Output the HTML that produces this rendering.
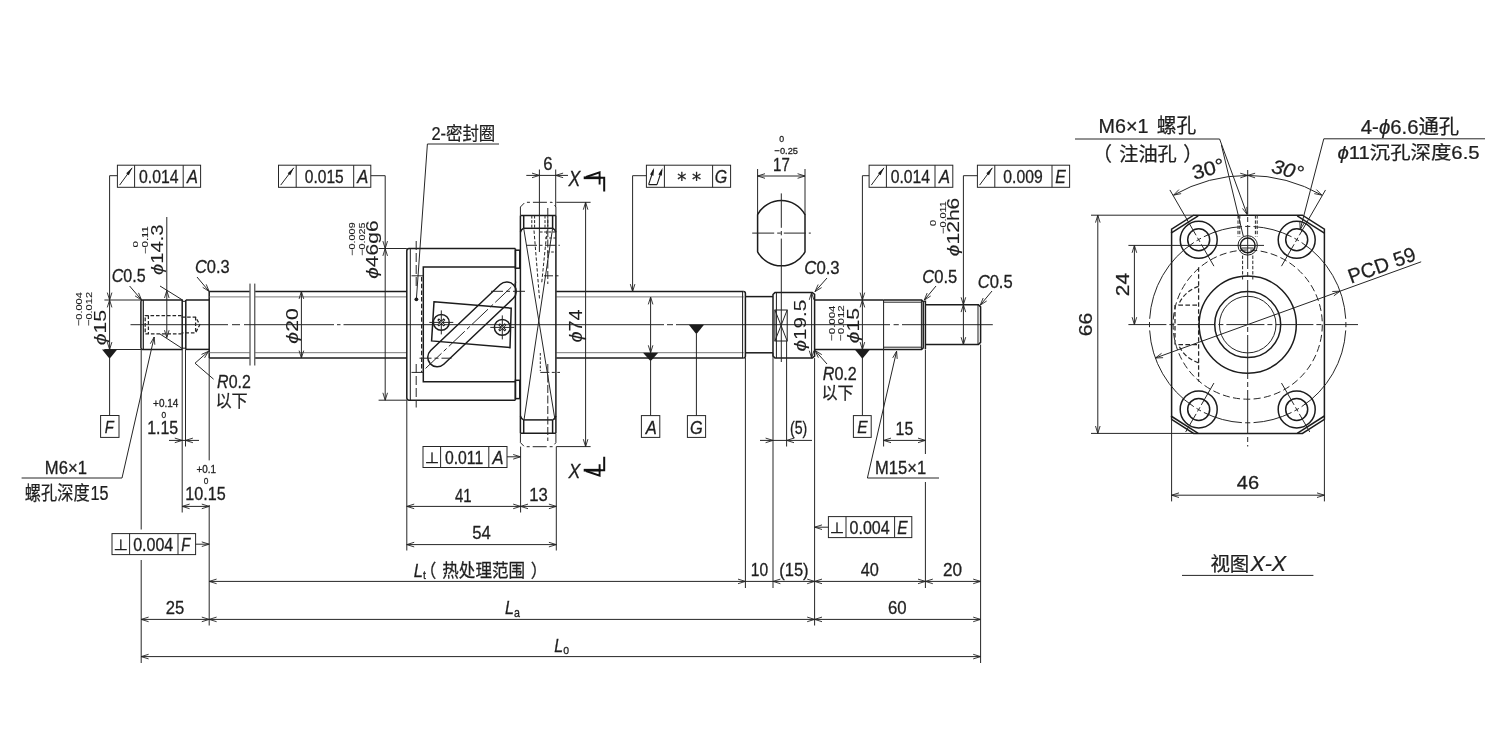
<!DOCTYPE html>
<html lang="zh-CN">
<head>
<meta charset="utf-8">
<title>滚珠丝杠 尺寸图</title>
<style>
html,body{margin:0;padding:0;background:#fff;}
body{width:1485px;height:742px;overflow:hidden;}
svg{display:block;will-change:transform;transform:translateZ(0);}
text{font-family:"Liberation Sans","Noto Sans CJK SC",sans-serif;}
</style>
</head>
<body>
<svg width="1485" height="742" viewBox="0 0 1485 742">
<rect x="0" y="0" width="1485" height="742" fill="#ffffff"/>
<line x1="130.50" y1="324.70" x2="228.00" y2="324.70" stroke="#262626" stroke-width="1.0" stroke-linecap="butt"/>
<line x1="232.00" y1="324.70" x2="240.00" y2="324.70" stroke="#262626" stroke-width="1.0" stroke-linecap="butt"/>
<line x1="244.00" y1="324.70" x2="334.00" y2="324.70" stroke="#262626" stroke-width="1.0" stroke-linecap="butt"/>
<line x1="337.00" y1="324.70" x2="340.50" y2="324.70" stroke="#262626" stroke-width="1.0" stroke-linecap="butt"/>
<line x1="343.50" y1="324.70" x2="664.00" y2="324.70" stroke="#262626" stroke-width="1.0" stroke-linecap="butt"/>
<line x1="667.00" y1="324.70" x2="673.00" y2="324.70" stroke="#262626" stroke-width="1.0" stroke-linecap="butt"/>
<line x1="676.00" y1="324.70" x2="890.00" y2="324.70" stroke="#262626" stroke-width="1.0" stroke-linecap="butt"/>
<line x1="893.60" y1="324.70" x2="898.80" y2="324.70" stroke="#262626" stroke-width="1.0" stroke-linecap="butt"/>
<line x1="902.00" y1="324.70" x2="992.80" y2="324.70" stroke="#262626" stroke-width="1.0" stroke-linecap="butt"/>
<path d="M182.5,300 L142.4,300 Q140.9,300 140.9,301.8 L140.9,347.6 Q140.9,349.4 142.4,349.4 L182.5,349.4" fill="none" stroke="#1c1c1c" stroke-width="1.5" stroke-linecap="butt"/>
<line x1="143.30" y1="300.00" x2="143.30" y2="349.40" stroke="#1c1c1c" stroke-width="1.2" stroke-linecap="butt"/>
<line x1="182.20" y1="300.00" x2="182.20" y2="349.40" stroke="#1c1c1c" stroke-width="1.5" stroke-linecap="butt"/>
<line x1="185.80" y1="300.00" x2="185.80" y2="349.40" stroke="#1c1c1c" stroke-width="1.5" stroke-linecap="butt"/>
<line x1="182.20" y1="301.30" x2="185.80" y2="301.30" stroke="#1c1c1c" stroke-width="1.0" stroke-linecap="butt"/>
<line x1="182.20" y1="348.20" x2="185.80" y2="348.20" stroke="#1c1c1c" stroke-width="1.0" stroke-linecap="butt"/>
<line x1="185.80" y1="300.00" x2="209.20" y2="300.00" stroke="#1c1c1c" stroke-width="1.5" stroke-linecap="butt"/>
<line x1="185.80" y1="349.40" x2="209.20" y2="349.40" stroke="#1c1c1c" stroke-width="1.5" stroke-linecap="butt"/>
<line x1="209.20" y1="291.50" x2="209.20" y2="358.00" stroke="#1c1c1c" stroke-width="1.5" stroke-linecap="butt"/>
<polyline points="181.60,315.50 145.20,315.50 145.20,333.90 181.60,333.90" fill="none" stroke="#262626" stroke-width="1.25" stroke-dasharray="3.6 1.9" stroke-linejoin="miter"/>
<line x1="148.40" y1="315.50" x2="148.40" y2="333.90" stroke="#262626" stroke-width="1.25" stroke-dasharray="3.6 1.9" stroke-linecap="butt"/>
<polyline points="181.60,317.00 195.60,317.00 199.80,324.70 195.60,332.80 181.60,332.80" fill="none" stroke="#262626" stroke-width="1.25" stroke-dasharray="3.6 1.9" stroke-linejoin="miter"/>
<line x1="195.60" y1="317.00" x2="195.60" y2="332.80" stroke="#262626" stroke-width="1.25" stroke-dasharray="3.6 1.9" stroke-linecap="butt"/>
<line x1="209.20" y1="291.50" x2="249.60" y2="291.50" stroke="#1c1c1c" stroke-width="1.5" stroke-linecap="butt"/>
<line x1="209.20" y1="358.00" x2="249.60" y2="358.00" stroke="#1c1c1c" stroke-width="1.5" stroke-linecap="butt"/>
<line x1="209.20" y1="296.90" x2="249.60" y2="296.90" stroke="#6a6a6a" stroke-width="0.9" stroke-linecap="butt"/>
<line x1="209.20" y1="352.70" x2="249.60" y2="352.70" stroke="#6a6a6a" stroke-width="0.9" stroke-linecap="butt"/>
<line x1="255.20" y1="291.50" x2="407.00" y2="291.50" stroke="#1c1c1c" stroke-width="1.5" stroke-linecap="butt"/>
<line x1="255.20" y1="358.00" x2="407.00" y2="358.00" stroke="#1c1c1c" stroke-width="1.5" stroke-linecap="butt"/>
<line x1="255.20" y1="296.90" x2="407.00" y2="296.90" stroke="#6a6a6a" stroke-width="0.9" stroke-linecap="butt"/>
<line x1="255.20" y1="352.70" x2="407.00" y2="352.70" stroke="#6a6a6a" stroke-width="0.9" stroke-linecap="butt"/>
<line x1="556.30" y1="291.50" x2="743.60" y2="291.50" stroke="#1c1c1c" stroke-width="1.5" stroke-linecap="butt"/>
<line x1="556.30" y1="358.00" x2="743.60" y2="358.00" stroke="#1c1c1c" stroke-width="1.5" stroke-linecap="butt"/>
<line x1="556.30" y1="296.90" x2="743.60" y2="296.90" stroke="#6a6a6a" stroke-width="0.9" stroke-linecap="butt"/>
<line x1="556.30" y1="352.70" x2="743.60" y2="352.70" stroke="#6a6a6a" stroke-width="0.9" stroke-linecap="butt"/>
<line x1="250.00" y1="283.60" x2="250.00" y2="365.50" stroke="#262626" stroke-width="1.0" stroke-linecap="butt"/>
<line x1="254.80" y1="283.60" x2="254.80" y2="365.50" stroke="#262626" stroke-width="1.0" stroke-linecap="butt"/>
<path d="M743.6,291.5 Q745.4,291.5 745.4,293.5 L745.4,356 Q745.4,358 743.6,358" fill="none" stroke="#1c1c1c" stroke-width="1.5" stroke-linecap="butt"/>
<line x1="742.60" y1="291.50" x2="742.60" y2="358.00" stroke="#1c1c1c" stroke-width="1.0" stroke-linecap="butt"/>
<line x1="745.40" y1="296.60" x2="773.00" y2="296.60" stroke="#1c1c1c" stroke-width="1.5" stroke-linecap="butt"/>
<line x1="745.40" y1="352.80" x2="773.00" y2="352.80" stroke="#1c1c1c" stroke-width="1.5" stroke-linecap="butt"/>
<path d="M773,294.6 L775,292.4 L812.3,292.4 L814.6,294.4 L814.6,356.2 L812.3,358.1 L775,358.1 L773,356 Z" fill="none" stroke="#1c1c1c" stroke-width="1.5" stroke-linecap="butt"/>
<line x1="776.40" y1="292.40" x2="776.40" y2="358.10" stroke="#1c1c1c" stroke-width="1.0" stroke-linecap="butt"/>
<rect x="774.90" y="310.00" width="12.30" height="31.00" fill="none" stroke="#1c1c1c" stroke-width="1.0"/>
<line x1="774.90" y1="310.00" x2="787.20" y2="341.00" stroke="#262626" stroke-width="1.0" stroke-linecap="butt"/>
<line x1="787.20" y1="310.00" x2="774.90" y2="341.00" stroke="#262626" stroke-width="1.0" stroke-linecap="butt"/>
<line x1="814.60" y1="300.00" x2="883.60" y2="300.00" stroke="#1c1c1c" stroke-width="1.5" stroke-linecap="butt"/>
<line x1="814.60" y1="349.50" x2="883.60" y2="349.50" stroke="#1c1c1c" stroke-width="1.5" stroke-linecap="butt"/>
<line x1="883.60" y1="300.00" x2="883.60" y2="349.50" stroke="#1c1c1c" stroke-width="1.0" stroke-linecap="butt"/>
<path d="M883.6,300 L921.6,300 L923.2,301.6 L923.2,347.9 L921.6,349.5 L883.6,349.5" fill="none" stroke="#1c1c1c" stroke-width="1.5" stroke-linecap="butt"/>
<line x1="883.60" y1="302.20" x2="921.60" y2="302.20" stroke="#262626" stroke-width="1.0" stroke-linecap="butt"/>
<line x1="883.60" y1="347.20" x2="921.60" y2="347.20" stroke="#262626" stroke-width="1.0" stroke-linecap="butt"/>
<line x1="921.40" y1="300.00" x2="921.40" y2="349.50" stroke="#1c1c1c" stroke-width="1.0" stroke-linecap="butt"/>
<line x1="925.40" y1="300.50" x2="925.40" y2="349.00" stroke="#1c1c1c" stroke-width="1.5" stroke-linecap="butt"/>
<line x1="923.20" y1="301.60" x2="925.40" y2="301.60" stroke="#1c1c1c" stroke-width="1.0" stroke-linecap="butt"/>
<path d="M925.4,304.7 L978.4,304.7 L980.6,306.9 L980.6,342.4 L978.4,344.6 L925.4,344.6" fill="none" stroke="#1c1c1c" stroke-width="1.5" stroke-linecap="butt"/>
<line x1="978.00" y1="304.70" x2="978.00" y2="344.60" stroke="#1c1c1c" stroke-width="1.0" stroke-linecap="butt"/>
<path d="M409,248.5 L515.4,248.5 M409,400.2 L515.4,400.2 M409,248.5 Q406.8,248.5 406.8,251 L406.8,397.8 Q406.8,400.2 409,400.2" fill="none" stroke="#1c1c1c" stroke-width="1.5" stroke-linecap="butt"/>
<line x1="410.30" y1="248.50" x2="410.30" y2="400.20" stroke="#1c1c1c" stroke-width="1.0" stroke-linecap="butt"/>
<line x1="515.40" y1="248.50" x2="515.40" y2="400.20" stroke="#1c1c1c" stroke-width="1.5" stroke-linecap="butt"/>
<rect x="515.40" y="250.20" width="4.40" height="18.00" fill="none" stroke="#1c1c1c" stroke-width="1.5"/>
<rect x="515.40" y="380.30" width="4.40" height="18.30" fill="none" stroke="#1c1c1c" stroke-width="1.5"/>
<path d="M515.4,267 L423.3,267 L423.3,381.8 L515.4,381.8" fill="none" stroke="#1c1c1c" stroke-width="1.5" stroke-linecap="butt"/>
<line x1="416.20" y1="241.00" x2="416.20" y2="289.00" stroke="#262626" stroke-width="1.0" stroke-dasharray="9 3" stroke-linecap="butt"/>
<line x1="416.20" y1="364.00" x2="416.20" y2="407.50" stroke="#262626" stroke-width="1.0" stroke-dasharray="9 3" stroke-linecap="butt"/>
<line x1="421.60" y1="277.00" x2="421.60" y2="372.00" stroke="#262626" stroke-width="1.2" stroke-dasharray="4.5 2.2" stroke-linecap="butt"/>
<line x1="411.50" y1="275.80" x2="423.30" y2="275.80" stroke="#262626" stroke-width="1.0" stroke-linecap="butt"/>
<line x1="411.50" y1="372.40" x2="423.30" y2="372.40" stroke="#262626" stroke-width="1.0" stroke-linecap="butt"/>
<path d="M443.74,364.29 L513.34,298.29 A9.5,9.5 0 0 0 500.26,284.51 L430.66,350.51 A9.5,9.5 0 0 0 443.74,364.29 Z" fill="none" stroke="#1c1c1c" stroke-width="1.5" stroke-linecap="butt"/>
<polygon points="434.00,301.80 511.20,308.20 510.00,347.60 431.60,340.90" fill="none" stroke="#1c1c1c" stroke-width="1.5" stroke-linejoin="miter"/>
<line x1="425.59" y1="368.41" x2="518.41" y2="280.39" stroke="#262626" stroke-width="1.0" stroke-dasharray="22 3 4 3" stroke-linecap="butt"/>
<line x1="419.50" y1="358.20" x2="451.50" y2="358.20" stroke="#262626" stroke-width="1.0" stroke-dasharray="12 3 4 3" stroke-linecap="butt"/>
<line x1="491.00" y1="291.30" x2="525.00" y2="291.30" stroke="#262626" stroke-width="1.0" stroke-dasharray="12 3 4 3" stroke-linecap="butt"/>
<circle cx="441.30" cy="322.40" r="7.90" fill="none" stroke="#1c1c1c" stroke-width="1.5"/>
<line x1="429.30" y1="322.40" x2="453.30" y2="322.40" stroke="#262626" stroke-width="1.0" stroke-linecap="butt"/>
<line x1="441.30" y1="310.40" x2="441.30" y2="334.40" stroke="#262626" stroke-width="1.0" stroke-linecap="butt"/>
<line x1="438.05" y1="319.15" x2="444.55" y2="325.65" stroke="#1c1c1c" stroke-width="2.4" stroke-linecap="butt"/>
<line x1="438.90" y1="320.00" x2="443.70" y2="324.80" stroke="#fff" stroke-width="0.9" stroke-linecap="butt"/>
<line x1="444.55" y1="319.15" x2="438.05" y2="325.65" stroke="#1c1c1c" stroke-width="2.4" stroke-linecap="butt"/>
<line x1="443.70" y1="320.00" x2="438.90" y2="324.80" stroke="#fff" stroke-width="0.9" stroke-linecap="butt"/>
<circle cx="502.30" cy="327.40" r="7.90" fill="none" stroke="#1c1c1c" stroke-width="1.5"/>
<line x1="490.30" y1="327.40" x2="514.30" y2="327.40" stroke="#262626" stroke-width="1.0" stroke-linecap="butt"/>
<line x1="502.30" y1="315.40" x2="502.30" y2="339.40" stroke="#262626" stroke-width="1.0" stroke-linecap="butt"/>
<line x1="499.05" y1="324.15" x2="505.55" y2="330.65" stroke="#1c1c1c" stroke-width="2.4" stroke-linecap="butt"/>
<line x1="499.90" y1="325.00" x2="504.70" y2="329.80" stroke="#fff" stroke-width="0.9" stroke-linecap="butt"/>
<line x1="505.55" y1="324.15" x2="499.05" y2="330.65" stroke="#1c1c1c" stroke-width="2.4" stroke-linecap="butt"/>
<line x1="504.70" y1="325.00" x2="499.90" y2="329.80" stroke="#fff" stroke-width="0.9" stroke-linecap="butt"/>
<path d="M520.4,215.5 L520.4,207 L525.0,202.3 L552.0,202.3 L555.9,207 L555.9,215.5" fill="none" stroke="#262626" stroke-width="1.0" stroke-dasharray="14 3 3 3" stroke-linecap="butt"/>
<path d="M520.4,433.6 L520.4,442.6 L524.4,446.7 L552.6,446.7 L555.9,442.6 L555.9,433.6" fill="none" stroke="#262626" stroke-width="1.0" stroke-dasharray="14 3 3 3" stroke-linecap="butt"/>
<line x1="520.40" y1="215.60" x2="520.40" y2="433.30" stroke="#1c1c1c" stroke-width="1.5" stroke-linecap="butt"/>
<line x1="555.90" y1="215.60" x2="555.90" y2="433.30" stroke="#1c1c1c" stroke-width="1.5" stroke-linecap="butt"/>
<line x1="520.40" y1="215.60" x2="555.90" y2="215.60" stroke="#1c1c1c" stroke-width="1.5" stroke-linecap="butt"/>
<line x1="520.40" y1="433.30" x2="555.90" y2="433.30" stroke="#1c1c1c" stroke-width="1.5" stroke-linecap="butt"/>
<line x1="523.70" y1="215.60" x2="523.70" y2="228.30" stroke="#1c1c1c" stroke-width="1.5" stroke-linecap="butt"/>
<line x1="552.60" y1="215.60" x2="552.60" y2="228.30" stroke="#1c1c1c" stroke-width="1.5" stroke-linecap="butt"/>
<line x1="523.70" y1="419.90" x2="523.70" y2="433.30" stroke="#1c1c1c" stroke-width="1.5" stroke-linecap="butt"/>
<line x1="552.60" y1="419.90" x2="552.60" y2="433.30" stroke="#1c1c1c" stroke-width="1.5" stroke-linecap="butt"/>
<line x1="523.70" y1="228.30" x2="552.60" y2="228.30" stroke="#1c1c1c" stroke-width="1.5" stroke-linecap="butt"/>
<line x1="523.70" y1="419.90" x2="552.60" y2="419.90" stroke="#1c1c1c" stroke-width="1.5" stroke-linecap="butt"/>
<path d="M523.7,228.3 Q521.2,229.4 520.4,232.2 M552.6,228.3 Q555.1,229.4 555.9,232.2 M523.7,419.9 Q521.2,418.8 520.4,416.0 M552.6,419.9 Q555.1,418.8 555.9,416.0" fill="none" stroke="#1c1c1c" stroke-width="1.5" stroke-linecap="butt"/>
<line x1="523.70" y1="228.30" x2="555.00" y2="419.90" stroke="#262626" stroke-width="1.0" stroke-linecap="butt"/>
<line x1="552.60" y1="228.30" x2="524.00" y2="419.90" stroke="#262626" stroke-width="1.0" stroke-linecap="butt"/>
<line x1="531.80" y1="215.50" x2="531.80" y2="228.80" stroke="#262626" stroke-width="1.0" stroke-dasharray="3 1.6" stroke-linecap="butt"/>
<line x1="534.60" y1="215.50" x2="534.60" y2="228.80" stroke="#262626" stroke-width="1.0" stroke-dasharray="3 1.6" stroke-linecap="butt"/>
<line x1="545.00" y1="215.50" x2="545.00" y2="228.80" stroke="#262626" stroke-width="1.0" stroke-dasharray="3 1.6" stroke-linecap="butt"/>
<line x1="547.80" y1="215.50" x2="547.80" y2="228.80" stroke="#262626" stroke-width="1.0" stroke-dasharray="3 1.6" stroke-linecap="butt"/>
<line x1="547.80" y1="208.00" x2="547.80" y2="284.00" stroke="#262626" stroke-width="1.0" stroke-dasharray="8 2.5" stroke-linecap="butt"/>
<line x1="534.00" y1="230.50" x2="539.60" y2="300.00" stroke="#262626" stroke-width="1.0" stroke-dasharray="3.4 2" stroke-linecap="butt"/>
<line x1="547.00" y1="230.50" x2="541.60" y2="284.00" stroke="#262626" stroke-width="1.0" stroke-dasharray="3.4 2" stroke-linecap="butt"/>
<line x1="526.00" y1="245.30" x2="559.80" y2="245.30" stroke="#262626" stroke-width="1.0" stroke-dasharray="11 2.5 3 2.5" stroke-linecap="butt"/>
<line x1="544.00" y1="275.80" x2="560.00" y2="275.80" stroke="#262626" stroke-width="1.0" stroke-dasharray="9 2.5 3 2.5" stroke-linecap="butt"/>
<line x1="540.00" y1="232.00" x2="556.00" y2="232.00" stroke="#262626" stroke-width="1.0" stroke-dasharray="2.6 1.6" stroke-linecap="butt"/>
<line x1="545.00" y1="238.00" x2="556.00" y2="238.00" stroke="#262626" stroke-width="1.0" stroke-dasharray="2.6 1.6" stroke-linecap="butt"/>
<line x1="547.00" y1="252.00" x2="556.00" y2="252.00" stroke="#262626" stroke-width="1.0" stroke-dasharray="2.6 1.6" stroke-linecap="butt"/>
<line x1="540.30" y1="353.00" x2="540.30" y2="371.00" stroke="#262626" stroke-width="1.0" stroke-dasharray="2.6 1.6" stroke-linecap="butt"/>
<line x1="540.30" y1="372.40" x2="560.00" y2="372.40" stroke="#262626" stroke-width="1.0" stroke-dasharray="9 2.5 3 2.5" stroke-linecap="butt"/>
<line x1="547.80" y1="364.00" x2="547.80" y2="441.00" stroke="#262626" stroke-width="1.0" stroke-dasharray="8 2.5" stroke-linecap="butt"/>
<rect x="117.40" y="165.20" width="83.20" height="22.10" fill="none" stroke="#262626" stroke-width="1.0"/>
<line x1="134.60" y1="165.20" x2="134.60" y2="187.30" stroke="#262626" stroke-width="1.0" stroke-linecap="butt"/>
<line x1="183.20" y1="165.20" x2="183.20" y2="187.30" stroke="#262626" stroke-width="1.0" stroke-linecap="butt"/>
<line x1="119.60" y1="185.10" x2="132.20" y2="167.80" stroke="#262626" stroke-width="1.0" stroke-linecap="butt"/>
<path d="M128.78,175.21 L132.20,167.80 L126.20,173.32 Z" fill="#1c1c1c" stroke="none"/>
<text transform="translate(138.97,182.82) scale(0.8765,1)" font-size="18.03" fill="#1f1f1f" stroke="#1f1f1f" stroke-width="0.3">0.014</text>
<text transform="translate(187.12,183.00) scale(0.8836,1)" font-size="18.55" fill="#1f1f1f" stroke="#1f1f1f" stroke-width="0.3"><tspan font-style="italic">A</tspan></text>
<polyline points="117.40,175.70 109.60,175.70 109.60,300.00" fill="none" stroke="#262626" stroke-width="1.0" stroke-linejoin="miter"/>
<path d="M107.30,292.60 L109.60,300.00 L111.90,292.60" fill="none" stroke="#222222" stroke-width="0.9" stroke-linejoin="miter"/>
<line x1="104.40" y1="300.00" x2="141.20" y2="300.00" stroke="#262626" stroke-width="1.0" stroke-linecap="butt"/>
<line x1="104.40" y1="349.50" x2="141.20" y2="349.50" stroke="#262626" stroke-width="1.0" stroke-linecap="butt"/>
<line x1="109.60" y1="300.00" x2="109.60" y2="349.50" stroke="#262626" stroke-width="1.0" stroke-linecap="butt"/>
<path d="M111.90,307.40 L109.60,300.00 L107.30,307.40" fill="none" stroke="#222222" stroke-width="0.9" stroke-linejoin="miter"/>
<path d="M107.30,342.10 L109.60,349.50 L111.90,342.10" fill="none" stroke="#222222" stroke-width="0.9" stroke-linejoin="miter"/>
<polygon points="102.00,349.50 117.20,349.50 109.60,358.70" fill="#1c1c1c" stroke="none"/>
<line x1="109.60" y1="358.00" x2="109.60" y2="415.50" stroke="#262626" stroke-width="1.0" stroke-linecap="butt"/>
<rect x="100.60" y="415.50" width="18.40" height="21.90" fill="none" stroke="#262626" stroke-width="1.0"/>
<text transform="translate(104.76,433.40) scale(0.8397,1)" font-size="17.39" fill="#1f1f1f" stroke="#1f1f1f" stroke-width="0.3"><tspan font-style="italic">F</tspan></text>
<text transform="translate(106.24,345.34) rotate(-90) scale(1.3080,1)" font-size="16.29" fill="#1f1f1f" stroke="#1f1f1f" stroke-width="0.1"><tspan font-style="italic">ϕ</tspan>15</text>
<text transform="translate(81.71,326.05) rotate(-90) scale(1.1814,1)" font-size="9.30" fill="#1f1f1f" stroke="#1f1f1f" stroke-width="0.1">−0.004</text>
<text transform="translate(91.71,326.05) rotate(-90) scale(1.1893,1)" font-size="9.30" fill="#1f1f1f" stroke="#1f1f1f" stroke-width="0.1">−0.012</text>
<text transform="translate(111.72,281.62) scale(0.8909,1)" font-size="18.03" fill="#1f1f1f" stroke="#1f1f1f" stroke-width="0.3"><tspan font-style="italic">C</tspan>0.5</text>
<line x1="129.60" y1="286.00" x2="141.60" y2="300.00" stroke="#262626" stroke-width="1.0" stroke-linecap="butt"/>
<path d="M135.04,295.88 L141.60,300.00 L138.53,292.88" fill="none" stroke="#222222" stroke-width="0.9" stroke-linejoin="miter"/>
<line x1="166.80" y1="217.00" x2="166.80" y2="337.50" stroke="#262626" stroke-width="1.0" stroke-linecap="butt"/>
<path d="M169.10,298.00 L166.80,290.60 L164.50,298.00" fill="none" stroke="#222222" stroke-width="0.9" stroke-linejoin="miter"/>
<path d="M164.50,330.20 L166.80,337.60 L169.10,330.20" fill="none" stroke="#222222" stroke-width="0.9" stroke-linejoin="miter"/>
<line x1="160.00" y1="286.00" x2="183.00" y2="300.30" stroke="#262626" stroke-width="1.0" stroke-linecap="butt"/>
<line x1="160.00" y1="334.00" x2="183.00" y2="349.00" stroke="#262626" stroke-width="1.0" stroke-linecap="butt"/>
<text transform="translate(163.00,275.01) rotate(-90) scale(1.2038,1)" font-size="16.81" fill="#1f1f1f" stroke="#1f1f1f" stroke-width="0.1"><tspan font-style="italic">ϕ</tspan>14.3</text>
<text transform="translate(137.53,247.46) rotate(-90) scale(1.6271,1)" font-size="7.04" fill="#1f1f1f" stroke="#1f1f1f" stroke-width="0.1">0</text>
<text transform="translate(147.71,254.07) rotate(-90) scale(1.3101,1)" font-size="8.73" fill="#1f1f1f" stroke="#1f1f1f" stroke-width="0.1">−0.11</text>
<text transform="translate(194.89,272.62) scale(0.9129,1)" font-size="18.03" fill="#1f1f1f" stroke="#1f1f1f" stroke-width="0.3"><tspan font-style="italic">C</tspan>0.3</text>
<line x1="197.00" y1="277.00" x2="209.20" y2="291.50" stroke="#262626" stroke-width="1.0" stroke-linecap="butt"/>
<path d="M202.68,287.31 L209.20,291.50 L206.21,284.35" fill="none" stroke="#222222" stroke-width="0.9" stroke-linejoin="miter"/>
<polyline points="208.20,351.60 195.00,363.20 213.60,379.20" fill="none" stroke="#262626" stroke-width="1.0" stroke-linejoin="miter"/>
<path d="M204.52,357.89 L208.60,351.30 L201.51,354.42" fill="none" stroke="#222222" stroke-width="0.9" stroke-linejoin="miter"/>
<text transform="translate(217.12,388.22) scale(0.8844,1)" font-size="18.03" fill="#1f1f1f" stroke="#1f1f1f" stroke-width="0.3"><tspan font-style="italic">R</tspan>0.2</text>
<text transform="translate(215.38,406.92) scale(0.9282,1)" font-size="17.40" fill="#1f1f1f" stroke="#1f1f1f" stroke-width="0.25">以下</text>
<polyline points="154.20,337.00 122.00,478.00 21.60,478.00" fill="none" stroke="#262626" stroke-width="1.0" stroke-linejoin="miter"/>
<path d="M154.80,344.73 L154.20,337.00 L150.32,343.71" fill="none" stroke="#222222" stroke-width="0.9" stroke-linejoin="miter"/>
<text transform="translate(44.87,473.72) scale(0.9014,1)" font-size="18.45" fill="#1f1f1f" stroke="#1f1f1f" stroke-width="0.3">M6×1</text>
<text transform="translate(24.75,500.24) scale(0.8339,1)" font-size="19.46" fill="#1f1f1f" stroke="#1f1f1f" stroke-width="0.25">螺孔深度<tspan dx="1.17">15</tspan></text>
<line x1="141.20" y1="349.50" x2="141.20" y2="529.50" stroke="#262626" stroke-width="1.0" stroke-linecap="butt"/>
<line x1="141.20" y1="560.00" x2="141.20" y2="663.00" stroke="#262626" stroke-width="1.0" stroke-linecap="butt"/>
<line x1="182.20" y1="349.50" x2="182.20" y2="512.50" stroke="#262626" stroke-width="1.0" stroke-linecap="butt"/>
<line x1="185.50" y1="349.50" x2="185.50" y2="446.50" stroke="#262626" stroke-width="1.0" stroke-linecap="butt"/>
<line x1="209.20" y1="358.00" x2="209.20" y2="460.40" stroke="#262626" stroke-width="1.0" stroke-linecap="butt"/>
<line x1="209.20" y1="505.00" x2="209.20" y2="625.50" stroke="#262626" stroke-width="1.0" stroke-linecap="butt"/>
<line x1="169.00" y1="440.40" x2="199.00" y2="440.40" stroke="#262626" stroke-width="1.0" stroke-linecap="butt"/>
<path d="M174.80,442.70 L182.20,440.40 L174.80,438.10" fill="none" stroke="#222222" stroke-width="0.9" stroke-linejoin="miter"/>
<path d="M192.90,438.10 L185.50,440.40 L192.90,442.70" fill="none" stroke="#222222" stroke-width="0.9" stroke-linejoin="miter"/>
<text transform="translate(147.20,433.62) scale(0.8865,1)" font-size="18.00" fill="#1f1f1f" stroke="#1f1f1f" stroke-width="0.3">1.15</text>
<text transform="translate(153.10,407.10) scale(0.9821,1)" font-size="10.14" fill="#1f1f1f" stroke="#1f1f1f" stroke-width="0.3">+0.14</text>
<text transform="translate(161.47,417.50) scale(0.8701,1)" font-size="9.58" fill="#1f1f1f" stroke="#1f1f1f" stroke-width="0.3">0</text>
<line x1="182.20" y1="506.40" x2="209.20" y2="506.40" stroke="#262626" stroke-width="1.0" stroke-linecap="butt"/>
<path d="M189.60,504.10 L182.20,506.40 L189.60,508.70" fill="none" stroke="#222222" stroke-width="0.9" stroke-linejoin="miter"/>
<path d="M201.80,508.70 L209.20,506.40 L201.80,504.10" fill="none" stroke="#222222" stroke-width="0.9" stroke-linejoin="miter"/>
<text transform="translate(185.19,500.02) scale(0.8977,1)" font-size="18.03" fill="#1f1f1f" stroke="#1f1f1f" stroke-width="0.3">10.15</text>
<text transform="translate(196.51,473.10) scale(0.9756,1)" font-size="10.14" fill="#1f1f1f" stroke="#1f1f1f" stroke-width="0.3">+0.1</text>
<text transform="translate(203.67,483.50) scale(0.8701,1)" font-size="9.58" fill="#1f1f1f" stroke="#1f1f1f" stroke-width="0.3">0</text>
<rect x="112.00" y="533.60" width="83.60" height="21.00" fill="none" stroke="#262626" stroke-width="1.0"/>
<line x1="129.60" y1="533.60" x2="129.60" y2="554.60" stroke="#262626" stroke-width="1.0" stroke-linecap="butt"/>
<line x1="178.00" y1="533.60" x2="178.00" y2="554.60" stroke="#262626" stroke-width="1.0" stroke-linecap="butt"/>
<text transform="translate(113.79,550.40) scale(1.1154,1)" font-size="14.86" fill="#1f1f1f" stroke="#1f1f1f" stroke-width="0.3"><tspan font-family="DejaVu Sans, sans-serif">⊥</tspan></text>
<text transform="translate(133.16,550.83) scale(0.9190,1)" font-size="17.46" fill="#1f1f1f" stroke="#1f1f1f" stroke-width="0.3">0.004</text>
<text transform="translate(181.16,550.80) scale(0.8259,1)" font-size="17.68" fill="#1f1f1f" stroke="#1f1f1f" stroke-width="0.3"><tspan font-style="italic">F</tspan></text>
<line x1="195.60" y1="544.20" x2="209.20" y2="544.20" stroke="#262626" stroke-width="1.0" stroke-linecap="butt"/>
<path d="M201.80,546.50 L209.20,544.20 L201.80,541.90" fill="none" stroke="#222222" stroke-width="0.9" stroke-linejoin="miter"/>
<line x1="209.20" y1="581.40" x2="745.40" y2="581.40" stroke="#262626" stroke-width="1.0" stroke-linecap="butt"/>
<path d="M216.60,579.10 L209.20,581.40 L216.60,583.70" fill="none" stroke="#222222" stroke-width="0.9" stroke-linejoin="miter"/>
<path d="M738.00,583.70 L745.40,581.40 L738.00,579.10" fill="none" stroke="#222222" stroke-width="0.9" stroke-linejoin="miter"/>
<line x1="745.40" y1="581.40" x2="773.00" y2="581.40" stroke="#262626" stroke-width="1.0" stroke-linecap="butt"/>
<line x1="773.00" y1="581.40" x2="814.60" y2="581.40" stroke="#262626" stroke-width="1.0" stroke-linecap="butt"/>
<path d="M807.20,583.70 L814.60,581.40 L807.20,579.10" fill="none" stroke="#222222" stroke-width="0.9" stroke-linejoin="miter"/>
<path d="M780.40,579.10 L773.00,581.40 L780.40,583.70" fill="none" stroke="#222222" stroke-width="0.9" stroke-linejoin="miter"/>
<line x1="814.60" y1="581.40" x2="925.40" y2="581.40" stroke="#262626" stroke-width="1.0" stroke-linecap="butt"/>
<path d="M822.00,579.10 L814.60,581.40 L822.00,583.70" fill="none" stroke="#222222" stroke-width="0.9" stroke-linejoin="miter"/>
<path d="M918.00,583.70 L925.40,581.40 L918.00,579.10" fill="none" stroke="#222222" stroke-width="0.9" stroke-linejoin="miter"/>
<line x1="925.40" y1="581.40" x2="980.60" y2="581.40" stroke="#262626" stroke-width="1.0" stroke-linecap="butt"/>
<path d="M932.80,579.10 L925.40,581.40 L932.80,583.70" fill="none" stroke="#222222" stroke-width="0.9" stroke-linejoin="miter"/>
<path d="M973.20,583.70 L980.60,581.40 L973.20,579.10" fill="none" stroke="#222222" stroke-width="0.9" stroke-linejoin="miter"/>
<line x1="141.20" y1="619.40" x2="209.20" y2="619.40" stroke="#262626" stroke-width="1.0" stroke-linecap="butt"/>
<path d="M148.60,617.10 L141.20,619.40 L148.60,621.70" fill="none" stroke="#222222" stroke-width="0.9" stroke-linejoin="miter"/>
<path d="M201.80,621.70 L209.20,619.40 L201.80,617.10" fill="none" stroke="#222222" stroke-width="0.9" stroke-linejoin="miter"/>
<line x1="209.20" y1="619.40" x2="814.60" y2="619.40" stroke="#262626" stroke-width="1.0" stroke-linecap="butt"/>
<path d="M216.60,617.10 L209.20,619.40 L216.60,621.70" fill="none" stroke="#222222" stroke-width="0.9" stroke-linejoin="miter"/>
<path d="M807.20,621.70 L814.60,619.40 L807.20,617.10" fill="none" stroke="#222222" stroke-width="0.9" stroke-linejoin="miter"/>
<line x1="814.60" y1="619.40" x2="980.60" y2="619.40" stroke="#262626" stroke-width="1.0" stroke-linecap="butt"/>
<path d="M822.00,617.10 L814.60,619.40 L822.00,621.70" fill="none" stroke="#222222" stroke-width="0.9" stroke-linejoin="miter"/>
<path d="M973.20,621.70 L980.60,619.40 L973.20,617.10" fill="none" stroke="#222222" stroke-width="0.9" stroke-linejoin="miter"/>
<line x1="141.20" y1="656.60" x2="980.60" y2="656.60" stroke="#262626" stroke-width="1.0" stroke-linecap="butt"/>
<path d="M148.60,654.30 L141.20,656.60 L148.60,658.90" fill="none" stroke="#222222" stroke-width="0.9" stroke-linejoin="miter"/>
<path d="M973.20,658.90 L980.60,656.60 L973.20,654.30" fill="none" stroke="#222222" stroke-width="0.9" stroke-linejoin="miter"/>
<text transform="translate(165.77,613.61) scale(0.8965,1)" font-size="18.59" fill="#1f1f1f" stroke="#1f1f1f" stroke-width="0.3">25</text>
<text transform="translate(413.70,577.05) scale(0.9064,1)" font-size="18.28" fill="#1f1f1f" stroke="#1f1f1f" stroke-width="0.25"><tspan font-style="italic">L</tspan><tspan font-size="11.70" dy="1.65">t</tspan><tspan dx="-6.76" dy="-1.65">（</tspan><tspan dx="6.58">热处理范围</tspan><tspan dx="6.22">）</tspan></text>
<text transform="translate(504.92,614.40) scale(0.8434,1)" font-size="19.13" fill="#1f1f1f" stroke="#1f1f1f" stroke-width="0.3"><tspan font-style="italic">L</tspan><tspan font-size="12.63" dy="2.30">a</tspan></text>
<text transform="translate(554.32,651.60) scale(0.8329,1)" font-size="19.13" fill="#1f1f1f" stroke="#1f1f1f" stroke-width="0.3"><tspan font-style="italic">L</tspan><tspan font-size="12.63" dy="2.30">o</tspan></text>
<text transform="translate(750.83,576.41) scale(0.8391,1)" font-size="18.59" fill="#1f1f1f" stroke="#1f1f1f" stroke-width="0.3">10</text>
<text transform="translate(779.21,575.78) scale(0.9106,1)" font-size="18.18" fill="#1f1f1f" stroke="#1f1f1f" stroke-width="0.3">(15)</text>
<text transform="translate(860.67,576.41) scale(0.8769,1)" font-size="18.59" fill="#1f1f1f" stroke="#1f1f1f" stroke-width="0.3">40</text>
<text transform="translate(942.94,576.41) scale(0.9236,1)" font-size="18.59" fill="#1f1f1f" stroke="#1f1f1f" stroke-width="0.3">20</text>
<text transform="translate(887.96,613.81) scale(0.9026,1)" font-size="18.59" fill="#1f1f1f" stroke="#1f1f1f" stroke-width="0.3">60</text>
<line x1="745.40" y1="358.00" x2="745.40" y2="588.00" stroke="#262626" stroke-width="1.0" stroke-linecap="butt"/>
<line x1="773.00" y1="353.00" x2="773.00" y2="588.00" stroke="#262626" stroke-width="1.0" stroke-linecap="butt"/>
<line x1="786.60" y1="341.00" x2="786.60" y2="446.50" stroke="#262626" stroke-width="1.0" stroke-linecap="butt"/>
<line x1="814.60" y1="358.10" x2="814.60" y2="625.50" stroke="#262626" stroke-width="1.0" stroke-linecap="butt"/>
<line x1="883.60" y1="349.50" x2="883.60" y2="446.50" stroke="#262626" stroke-width="1.0" stroke-linecap="butt"/>
<line x1="925.40" y1="349.50" x2="925.40" y2="454.00" stroke="#262626" stroke-width="1.0" stroke-linecap="butt"/>
<line x1="925.40" y1="482.00" x2="925.40" y2="588.00" stroke="#262626" stroke-width="1.0" stroke-linecap="butt"/>
<line x1="980.60" y1="344.60" x2="980.60" y2="663.00" stroke="#262626" stroke-width="1.0" stroke-linecap="butt"/>
<line x1="406.80" y1="400.20" x2="406.80" y2="550.50" stroke="#262626" stroke-width="1.0" stroke-linecap="butt"/>
<line x1="520.60" y1="446.60" x2="520.60" y2="512.50" stroke="#262626" stroke-width="1.0" stroke-linecap="butt"/>
<line x1="556.30" y1="446.60" x2="556.30" y2="550.50" stroke="#262626" stroke-width="1.0" stroke-linecap="butt"/>
<line x1="406.80" y1="506.40" x2="520.60" y2="506.40" stroke="#262626" stroke-width="1.0" stroke-linecap="butt"/>
<path d="M414.20,504.10 L406.80,506.40 L414.20,508.70" fill="none" stroke="#222222" stroke-width="0.9" stroke-linejoin="miter"/>
<path d="M513.20,508.70 L520.60,506.40 L513.20,504.10" fill="none" stroke="#222222" stroke-width="0.9" stroke-linejoin="miter"/>
<line x1="520.60" y1="506.40" x2="556.30" y2="506.40" stroke="#262626" stroke-width="1.0" stroke-linecap="butt"/>
<path d="M528.00,504.10 L520.60,506.40 L528.00,508.70" fill="none" stroke="#222222" stroke-width="0.9" stroke-linejoin="miter"/>
<path d="M548.90,508.70 L556.30,506.40 L548.90,504.10" fill="none" stroke="#222222" stroke-width="0.9" stroke-linejoin="miter"/>
<line x1="406.80" y1="544.60" x2="556.30" y2="544.60" stroke="#262626" stroke-width="1.0" stroke-linecap="butt"/>
<path d="M414.20,542.30 L406.80,544.60 L414.20,546.90" fill="none" stroke="#222222" stroke-width="0.9" stroke-linejoin="miter"/>
<path d="M548.90,546.90 L556.30,544.60 L548.90,542.30" fill="none" stroke="#222222" stroke-width="0.9" stroke-linejoin="miter"/>
<text transform="translate(454.90,501.60) scale(0.7803,1)" font-size="19.13" fill="#1f1f1f" stroke="#1f1f1f" stroke-width="0.3">41</text>
<text transform="translate(529.15,501.41) scale(0.8974,1)" font-size="18.59" fill="#1f1f1f" stroke="#1f1f1f" stroke-width="0.3">13</text>
<text transform="translate(472.13,539.41) scale(0.8872,1)" font-size="18.86" fill="#1f1f1f" stroke="#1f1f1f" stroke-width="0.3">54</text>
<rect x="423.00" y="446.50" width="84.00" height="21.00" fill="none" stroke="#262626" stroke-width="1.0"/>
<line x1="440.60" y1="446.50" x2="440.60" y2="467.50" stroke="#262626" stroke-width="1.0" stroke-linecap="butt"/>
<line x1="488.80" y1="446.50" x2="488.80" y2="467.50" stroke="#262626" stroke-width="1.0" stroke-linecap="butt"/>
<text transform="translate(424.99,463.20) scale(1.1154,1)" font-size="14.86" fill="#1f1f1f" stroke="#1f1f1f" stroke-width="0.3"><tspan font-family="DejaVu Sans, sans-serif">⊥</tspan></text>
<text transform="translate(444.97,463.83) scale(0.9005,1)" font-size="17.46" fill="#1f1f1f" stroke="#1f1f1f" stroke-width="0.3">0.011</text>
<text transform="translate(492.43,463.80) scale(0.9355,1)" font-size="17.68" fill="#1f1f1f" stroke="#1f1f1f" stroke-width="0.3"><tspan font-style="italic">A</tspan></text>
<line x1="507.00" y1="456.80" x2="520.60" y2="456.80" stroke="#262626" stroke-width="1.0" stroke-linecap="butt"/>
<path d="M513.20,459.10 L520.60,456.80 L513.20,454.50" fill="none" stroke="#222222" stroke-width="0.9" stroke-linejoin="miter"/>
<polyline points="499.00,144.00 427.40,144.00 416.40,299.00" fill="none" stroke="#262626" stroke-width="1.0" stroke-linejoin="miter"/>
<circle cx="416.40" cy="299.30" r="1.90" fill="#1c1c1c" stroke="none" stroke-width="0"/>
<text transform="translate(431.38,139.95) scale(0.9100,1)" font-size="18.06" fill="#1f1f1f" stroke="#1f1f1f" stroke-width="0.25">2-密封圈</text>
<rect x="278.50" y="165.20" width="92.30" height="22.10" fill="none" stroke="#262626" stroke-width="1.0"/>
<line x1="296.20" y1="165.20" x2="296.20" y2="187.30" stroke="#262626" stroke-width="1.0" stroke-linecap="butt"/>
<line x1="353.70" y1="165.20" x2="353.70" y2="187.30" stroke="#262626" stroke-width="1.0" stroke-linecap="butt"/>
<line x1="280.70" y1="185.10" x2="293.80" y2="167.80" stroke="#262626" stroke-width="1.0" stroke-linecap="butt"/>
<path d="M290.25,175.14 L293.80,167.80 L287.69,173.21 Z" fill="#1c1c1c" stroke="none"/>
<text transform="translate(304.78,182.82) scale(0.8618,1)" font-size="18.03" fill="#1f1f1f" stroke="#1f1f1f" stroke-width="0.3">0.015</text>
<text transform="translate(357.23,183.00) scale(0.8917,1)" font-size="18.55" fill="#1f1f1f" stroke="#1f1f1f" stroke-width="0.3"><tspan font-style="italic">A</tspan></text>
<polyline points="370.80,175.70 385.20,175.70 385.20,248.50" fill="none" stroke="#262626" stroke-width="1.0" stroke-linejoin="miter"/>
<path d="M382.90,241.10 L385.20,248.50 L387.50,241.10" fill="none" stroke="#222222" stroke-width="0.9" stroke-linejoin="miter"/>
<line x1="378.60" y1="248.50" x2="406.80" y2="248.50" stroke="#262626" stroke-width="1.0" stroke-linecap="butt"/>
<line x1="378.60" y1="400.20" x2="406.80" y2="400.20" stroke="#262626" stroke-width="1.0" stroke-linecap="butt"/>
<line x1="385.20" y1="248.50" x2="385.20" y2="400.20" stroke="#262626" stroke-width="1.0" stroke-linecap="butt"/>
<path d="M387.50,255.90 L385.20,248.50 L382.90,255.90" fill="none" stroke="#222222" stroke-width="0.9" stroke-linejoin="miter"/>
<path d="M382.90,392.80 L385.20,400.20 L387.50,392.80" fill="none" stroke="#222222" stroke-width="0.9" stroke-linejoin="miter"/>
<text transform="translate(378.28,278.83) rotate(-90) scale(1.3286,1)" font-size="15.82" fill="#1f1f1f" stroke="#1f1f1f" stroke-width="0.1"><tspan font-style="italic">ϕ</tspan>46g6</text>
<text transform="translate(354.51,255.74) rotate(-90) scale(1.2021,1)" font-size="9.01" fill="#1f1f1f" stroke="#1f1f1f" stroke-width="0.1">−0.009</text>
<text transform="translate(365.11,255.74) rotate(-90) scale(1.2001,1)" font-size="9.01" fill="#1f1f1f" stroke="#1f1f1f" stroke-width="0.1">−0.025</text>
<line x1="301.40" y1="291.50" x2="301.40" y2="358.00" stroke="#262626" stroke-width="1.0" stroke-linecap="butt"/>
<path d="M303.70,298.90 L301.40,291.50 L299.10,298.90" fill="none" stroke="#222222" stroke-width="0.9" stroke-linejoin="miter"/>
<path d="M299.10,350.60 L301.40,358.00 L303.70,350.60" fill="none" stroke="#222222" stroke-width="0.9" stroke-linejoin="miter"/>
<text transform="translate(298.23,343.64) rotate(-90) scale(1.2564,1)" font-size="16.90" fill="#1f1f1f" stroke="#1f1f1f" stroke-width="0.1"><tspan font-style="italic">ϕ</tspan>20</text>
<line x1="539.40" y1="169.50" x2="539.40" y2="252.00" stroke="#262626" stroke-width="1.0" stroke-linecap="butt"/>
<line x1="555.70" y1="169.50" x2="555.70" y2="207.00" stroke="#262626" stroke-width="1.0" stroke-linecap="butt"/>
<line x1="526.30" y1="175.40" x2="539.40" y2="175.40" stroke="#262626" stroke-width="1.0" stroke-linecap="butt"/>
<path d="M532.00,177.70 L539.40,175.40 L532.00,173.10" fill="none" stroke="#222222" stroke-width="0.9" stroke-linejoin="miter"/>
<line x1="539.40" y1="175.40" x2="555.70" y2="175.40" stroke="#262626" stroke-width="1.0" stroke-linecap="butt"/>
<line x1="555.70" y1="175.40" x2="568.00" y2="175.40" stroke="#262626" stroke-width="1.0" stroke-linecap="butt"/>
<path d="M563.10,173.10 L555.70,175.40 L563.10,177.70" fill="none" stroke="#222222" stroke-width="0.9" stroke-linejoin="miter"/>
<text transform="translate(543.36,170.42) scale(0.9304,1)" font-size="18.03" fill="#1f1f1f" stroke="#1f1f1f" stroke-width="0.3">6</text>
<text transform="translate(568.47,185.60) scale(0.8163,1)" font-size="21.74" fill="#1f1f1f" stroke="#1f1f1f" stroke-width="0.3"><tspan font-style="italic">X</tspan></text>
<text transform="translate(568.47,477.80) scale(0.8873,1)" font-size="20.00" fill="#1f1f1f" stroke="#1f1f1f" stroke-width="0.3"><tspan font-style="italic">X</tspan></text>
<path d="M599.6,177.8 L604.2,177.8 L604.2,191.4" fill="none" stroke="#111" stroke-width="2.0" stroke-linecap="butt"/>
<line x1="583.70" y1="177.80" x2="600.40" y2="177.80" stroke="#111" stroke-width="2.7" stroke-linecap="butt"/>
<path d="M586.0,177.0 L599.6,172.4 L599.6,184.4" fill="none" stroke="#111" stroke-width="1.9" stroke-linecap="butt"/>
<path d="M599.6,470.2 L604.2,470.2 L604.2,456.8" fill="none" stroke="#111" stroke-width="2.0" stroke-linecap="butt"/>
<line x1="583.70" y1="470.20" x2="600.40" y2="470.20" stroke="#111" stroke-width="2.7" stroke-linecap="butt"/>
<path d="M586.0,471.0 L599.6,475.7 L599.6,464.2" fill="none" stroke="#111" stroke-width="1.9" stroke-linecap="butt"/>
<line x1="556.30" y1="202.30" x2="590.60" y2="202.30" stroke="#262626" stroke-width="1.0" stroke-linecap="butt"/>
<line x1="556.30" y1="446.60" x2="590.60" y2="446.60" stroke="#262626" stroke-width="1.0" stroke-linecap="butt"/>
<line x1="585.60" y1="202.30" x2="585.60" y2="446.60" stroke="#262626" stroke-width="1.0" stroke-linecap="butt"/>
<path d="M587.90,209.70 L585.60,202.30 L583.30,209.70" fill="none" stroke="#222222" stroke-width="0.9" stroke-linejoin="miter"/>
<path d="M583.30,439.20 L585.60,446.60 L587.90,439.20" fill="none" stroke="#222222" stroke-width="0.9" stroke-linejoin="miter"/>
<text transform="translate(582.40,342.60) rotate(-90) scale(1.1268,1)" font-size="17.68" fill="#1f1f1f" stroke="#1f1f1f" stroke-width="0.1"><tspan font-style="italic">ϕ</tspan>74</text>
<rect x="646.40" y="165.20" width="84.20" height="22.10" fill="none" stroke="#262626" stroke-width="1.0"/>
<line x1="664.40" y1="165.20" x2="664.40" y2="187.30" stroke="#262626" stroke-width="1.0" stroke-linecap="butt"/>
<line x1="712.60" y1="165.20" x2="712.60" y2="187.30" stroke="#262626" stroke-width="1.0" stroke-linecap="butt"/>
<path d="M648.6,184.6 L657.0,184.6 M648.6,184.6 L653.4,170.0 M657.0,184.6 L661.8,170.0" fill="none" stroke="#1c1c1c" stroke-width="1.1" stroke-linecap="butt"/>
<path d="M653.42,175.68 L654.10,167.90 L650.00,174.55 Z" fill="#1c1c1c" stroke="none"/>
<path d="M661.82,175.68 L662.50,167.90 L658.40,174.55 Z" fill="#1c1c1c" stroke="none"/>
<text transform="translate(677.25,186.28) scale(0.9293,1)" font-size="19.57" fill="#1f1f1f" stroke="#1f1f1f" stroke-width="0.3"><tspan font-family="DejaVu Sans, sans-serif">*</tspan></text>
<text transform="translate(692.05,186.28) scale(0.9293,1)" font-size="19.57" fill="#1f1f1f" stroke="#1f1f1f" stroke-width="0.3"><tspan font-family="DejaVu Sans, sans-serif">*</tspan></text>
<text transform="translate(714.80,183.02) scale(0.8770,1)" font-size="18.31" fill="#1f1f1f" stroke="#1f1f1f" stroke-width="0.3"><tspan font-style="italic">G</tspan></text>
<polyline points="646.40,175.70 632.60,175.70 632.60,291.50" fill="none" stroke="#262626" stroke-width="1.0" stroke-linejoin="miter"/>
<path d="M630.30,284.10 L632.60,291.50 L634.90,284.10" fill="none" stroke="#222222" stroke-width="0.9" stroke-linejoin="miter"/>
<line x1="650.60" y1="297.00" x2="650.60" y2="352.70" stroke="#262626" stroke-width="1.0" stroke-linecap="butt"/>
<path d="M652.90,304.40 L650.60,297.00 L648.30,304.40" fill="none" stroke="#222222" stroke-width="0.9" stroke-linejoin="miter"/>
<path d="M648.30,345.30 L650.60,352.70 L652.90,345.30" fill="none" stroke="#222222" stroke-width="0.9" stroke-linejoin="miter"/>
<polygon points="643.00,352.70 658.20,352.70 650.60,361.30" fill="#1c1c1c" stroke="none"/>
<line x1="650.60" y1="361.00" x2="650.60" y2="415.60" stroke="#262626" stroke-width="1.0" stroke-linecap="butt"/>
<rect x="641.40" y="415.60" width="18.40" height="21.80" fill="none" stroke="#262626" stroke-width="1.0"/>
<text transform="translate(645.83,433.60) scale(0.9355,1)" font-size="17.68" fill="#1f1f1f" stroke="#1f1f1f" stroke-width="0.3"><tspan font-style="italic">A</tspan></text>
<polygon points="688.80,324.70 704.00,324.70 696.40,334.30" fill="#1c1c1c" stroke="none"/>
<line x1="696.40" y1="334.00" x2="696.40" y2="415.60" stroke="#262626" stroke-width="1.0" stroke-linecap="butt"/>
<rect x="687.40" y="415.60" width="18.20" height="21.80" fill="none" stroke="#262626" stroke-width="1.0"/>
<text transform="translate(689.98,433.62) scale(0.9213,1)" font-size="17.75" fill="#1f1f1f" stroke="#1f1f1f" stroke-width="0.3"><tspan font-style="italic">G</tspan></text>
<line x1="757.60" y1="169.00" x2="757.60" y2="215.00" stroke="#262626" stroke-width="1.0" stroke-linecap="butt"/>
<line x1="805.00" y1="169.00" x2="805.00" y2="215.00" stroke="#262626" stroke-width="1.0" stroke-linecap="butt"/>
<line x1="757.60" y1="176.00" x2="805.00" y2="176.00" stroke="#262626" stroke-width="1.0" stroke-linecap="butt"/>
<path d="M765.00,173.70 L757.60,176.00 L765.00,178.30" fill="none" stroke="#222222" stroke-width="0.9" stroke-linejoin="miter"/>
<path d="M797.60,178.30 L805.00,176.00 L797.60,173.70" fill="none" stroke="#222222" stroke-width="0.9" stroke-linejoin="miter"/>
<text transform="translate(773.07,170.60) scale(0.8228,1)" font-size="18.26" fill="#1f1f1f" stroke="#1f1f1f" stroke-width="0.3">17</text>
<text transform="translate(779.25,141.70) scale(0.8875,1)" font-size="9.86" fill="#1f1f1f" stroke="#1f1f1f" stroke-width="0.3">0</text>
<text transform="translate(774.54,154.10) scale(0.9395,1)" font-size="9.86" fill="#1f1f1f" stroke="#1f1f1f" stroke-width="0.3">−0.25</text>
<path d="M757.6,214.6 A27.0,27.0 0 0 1 805,214.6 L805,251.8 A27.0,27.0 0 0 1 757.6,251.8 Z" fill="none" stroke="#1c1c1c" stroke-width="1.5" stroke-linecap="butt"/>
<line x1="752.20" y1="233.10" x2="810.80" y2="233.10" stroke="#262626" stroke-width="1.0" stroke-dasharray="22 3 3.6 3" stroke-linecap="butt"/>
<line x1="781.30" y1="193.40" x2="781.30" y2="227.80" stroke="#262626" stroke-width="1.0" stroke-linecap="butt"/>
<line x1="781.30" y1="231.00" x2="781.30" y2="235.30" stroke="#262626" stroke-width="1.0" stroke-linecap="butt"/>
<line x1="781.30" y1="238.60" x2="781.30" y2="362.00" stroke="#262626" stroke-width="1.0" stroke-linecap="butt"/>
<line x1="760.00" y1="440.40" x2="786.60" y2="440.40" stroke="#262626" stroke-width="1.0" stroke-linecap="butt"/>
<path d="M765.60,442.70 L773.00,440.40 L765.60,438.10" fill="none" stroke="#222222" stroke-width="0.9" stroke-linejoin="miter"/>
<line x1="786.60" y1="440.40" x2="812.00" y2="440.40" stroke="#262626" stroke-width="1.0" stroke-linecap="butt"/>
<path d="M794.00,438.10 L786.60,440.40 L794.00,442.70" fill="none" stroke="#222222" stroke-width="0.9" stroke-linejoin="miter"/>
<text transform="translate(789.95,434.49) scale(0.7621,1)" font-size="18.61" fill="#1f1f1f" stroke="#1f1f1f" stroke-width="0.3">(5)</text>
<text transform="translate(804.28,274.42) scale(0.9442,1)" font-size="17.75" fill="#1f1f1f" stroke="#1f1f1f" stroke-width="0.3"><tspan font-style="italic">C</tspan>0.3</text>
<line x1="827.00" y1="278.00" x2="815.00" y2="291.60" stroke="#262626" stroke-width="1.0" stroke-linecap="butt"/>
<path d="M818.17,284.53 L815.00,291.60 L821.62,287.57" fill="none" stroke="#222222" stroke-width="0.9" stroke-linejoin="miter"/>
<text transform="translate(822.72,380.42) scale(0.8815,1)" font-size="18.31" fill="#1f1f1f" stroke="#1f1f1f" stroke-width="0.3"><tspan font-style="italic">R</tspan>0.2</text>
<text transform="translate(821.40,399.32) scale(0.9220,1)" font-size="17.40" fill="#1f1f1f" stroke="#1f1f1f" stroke-width="0.25">以下</text>
<line x1="827.00" y1="364.00" x2="815.20" y2="350.60" stroke="#262626" stroke-width="1.0" stroke-linecap="butt"/>
<path d="M821.82,354.63 L815.20,350.60 L818.37,357.67" fill="none" stroke="#222222" stroke-width="0.9" stroke-linejoin="miter"/>
<line x1="811.60" y1="292.40" x2="811.60" y2="358.10" stroke="#262626" stroke-width="1.0" stroke-linecap="butt"/>
<path d="M813.90,299.80 L811.60,292.40 L809.30,299.80" fill="none" stroke="#222222" stroke-width="0.9" stroke-linejoin="miter"/>
<path d="M809.30,350.70 L811.60,358.10 L813.90,350.70" fill="none" stroke="#222222" stroke-width="0.9" stroke-linejoin="miter"/>
<text transform="translate(806.43,351.62) rotate(-90) scale(1.2266,1)" font-size="16.90" fill="#1f1f1f" stroke="#1f1f1f" stroke-width="0.1"><tspan font-style="italic">ϕ</tspan>19.5</text>
<text transform="translate(859.43,343.23) rotate(-90) scale(1.2703,1)" font-size="16.57" fill="#1f1f1f" stroke="#1f1f1f" stroke-width="0.1"><tspan font-style="italic">ϕ</tspan>15</text>
<text transform="translate(835.11,340.98) rotate(-90) scale(1.2386,1)" font-size="9.30" fill="#1f1f1f" stroke="#1f1f1f" stroke-width="0.1">−0.004</text>
<text transform="translate(844.31,340.98) rotate(-90) scale(1.2469,1)" font-size="9.30" fill="#1f1f1f" stroke="#1f1f1f" stroke-width="0.1">−0.012</text>
<line x1="862.40" y1="300.00" x2="862.40" y2="349.50" stroke="#262626" stroke-width="1.0" stroke-linecap="butt"/>
<path d="M864.70,307.40 L862.40,300.00 L860.10,307.40" fill="none" stroke="#222222" stroke-width="0.9" stroke-linejoin="miter"/>
<path d="M860.10,342.10 L862.40,349.50 L864.70,342.10" fill="none" stroke="#222222" stroke-width="0.9" stroke-linejoin="miter"/>
<polygon points="854.80,349.50 870.00,349.50 862.40,358.70" fill="#1c1c1c" stroke="none"/>
<line x1="862.40" y1="358.00" x2="862.40" y2="415.60" stroke="#262626" stroke-width="1.0" stroke-linecap="butt"/>
<rect x="853.40" y="415.60" width="17.80" height="21.80" fill="none" stroke="#262626" stroke-width="1.0"/>
<text transform="translate(857.13,433.40) scale(0.8915,1)" font-size="17.39" fill="#1f1f1f" stroke="#1f1f1f" stroke-width="0.3"><tspan font-style="italic">E</tspan></text>
<rect x="869.10" y="165.20" width="83.70" height="22.10" fill="none" stroke="#262626" stroke-width="1.0"/>
<line x1="886.40" y1="165.20" x2="886.40" y2="187.30" stroke="#262626" stroke-width="1.0" stroke-linecap="butt"/>
<line x1="935.00" y1="165.20" x2="935.00" y2="187.30" stroke="#262626" stroke-width="1.0" stroke-linecap="butt"/>
<line x1="871.30" y1="185.10" x2="884.00" y2="167.80" stroke="#262626" stroke-width="1.0" stroke-linecap="butt"/>
<path d="M880.56,175.20 L884.00,167.80 L877.98,173.30 Z" fill="#1c1c1c" stroke="none"/>
<text transform="translate(890.77,182.82) scale(0.8720,1)" font-size="18.03" fill="#1f1f1f" stroke="#1f1f1f" stroke-width="0.3">0.014</text>
<text transform="translate(939.03,183.00) scale(0.8917,1)" font-size="18.55" fill="#1f1f1f" stroke="#1f1f1f" stroke-width="0.3"><tspan font-style="italic">A</tspan></text>
<polyline points="869.10,175.70 862.40,175.70 862.40,300.00" fill="none" stroke="#262626" stroke-width="1.0" stroke-linejoin="miter"/>
<path d="M860.10,292.60 L862.40,300.00 L864.70,292.60" fill="none" stroke="#222222" stroke-width="0.9" stroke-linejoin="miter"/>
<rect x="977.40" y="165.20" width="92.20" height="22.10" fill="none" stroke="#262626" stroke-width="1.0"/>
<line x1="994.80" y1="165.20" x2="994.80" y2="187.30" stroke="#262626" stroke-width="1.0" stroke-linecap="butt"/>
<line x1="1052.00" y1="165.20" x2="1052.00" y2="187.30" stroke="#262626" stroke-width="1.0" stroke-linecap="butt"/>
<line x1="979.60" y1="185.10" x2="992.40" y2="167.80" stroke="#262626" stroke-width="1.0" stroke-linecap="butt"/>
<path d="M988.93,175.18 L992.40,167.80 L986.36,173.28 Z" fill="#1c1c1c" stroke="none"/>
<text transform="translate(1003.37,182.82) scale(0.8728,1)" font-size="18.03" fill="#1f1f1f" stroke="#1f1f1f" stroke-width="0.3">0.009</text>
<text transform="translate(1055.33,183.00) scale(0.8525,1)" font-size="18.55" fill="#1f1f1f" stroke="#1f1f1f" stroke-width="0.3"><tspan font-style="italic">E</tspan></text>
<polyline points="977.40,175.70 963.40,175.70 963.40,304.70" fill="none" stroke="#262626" stroke-width="1.0" stroke-linejoin="miter"/>
<path d="M961.10,297.30 L963.40,304.70 L965.70,297.30" fill="none" stroke="#222222" stroke-width="0.9" stroke-linejoin="miter"/>
<line x1="963.40" y1="304.70" x2="963.40" y2="344.60" stroke="#262626" stroke-width="1.0" stroke-linecap="butt"/>
<path d="M965.70,312.10 L963.40,304.70 L961.10,312.10" fill="none" stroke="#222222" stroke-width="0.9" stroke-linejoin="miter"/>
<path d="M961.10,337.20 L963.40,344.60 L965.70,337.20" fill="none" stroke="#222222" stroke-width="0.9" stroke-linejoin="miter"/>
<text transform="translate(959.00,256.23) rotate(-90) scale(1.2314,1)" font-size="17.10" fill="#1f1f1f" stroke="#1f1f1f" stroke-width="0.1"><tspan font-style="italic">ϕ</tspan>12h6</text>
<text transform="translate(935.91,226.27) rotate(-90) scale(1.2943,1)" font-size="9.01" fill="#1f1f1f" stroke="#1f1f1f" stroke-width="0.1">0</text>
<text transform="translate(945.91,233.95) rotate(-90) scale(1.2102,1)" font-size="9.01" fill="#1f1f1f" stroke="#1f1f1f" stroke-width="0.1">−0.011</text>
<text transform="translate(922.29,282.62) scale(0.9184,1)" font-size="18.03" fill="#1f1f1f" stroke="#1f1f1f" stroke-width="0.3"><tspan font-style="italic">C</tspan>0.5</text>
<line x1="936.00" y1="286.00" x2="924.20" y2="300.20" stroke="#262626" stroke-width="1.0" stroke-linecap="butt"/>
<path d="M927.16,293.04 L924.20,300.20 L930.70,295.98" fill="none" stroke="#222222" stroke-width="0.9" stroke-linejoin="miter"/>
<text transform="translate(977.69,287.62) scale(0.9184,1)" font-size="18.03" fill="#1f1f1f" stroke="#1f1f1f" stroke-width="0.3"><tspan font-style="italic">C</tspan>0.5</text>
<line x1="992.00" y1="291.00" x2="980.20" y2="305.20" stroke="#262626" stroke-width="1.0" stroke-linecap="butt"/>
<path d="M983.16,298.04 L980.20,305.20 L986.70,300.98" fill="none" stroke="#222222" stroke-width="0.9" stroke-linejoin="miter"/>
<line x1="896.00" y1="440.40" x2="925.40" y2="440.40" stroke="#262626" stroke-width="1.0" stroke-linecap="butt"/>
<path d="M918.00,442.70 L925.40,440.40 L918.00,438.10" fill="none" stroke="#222222" stroke-width="0.9" stroke-linejoin="miter"/>
<path d="M891.00,438.10 L883.60,440.40 L891.00,442.70" fill="none" stroke="#222222" stroke-width="0.9" stroke-linejoin="miter"/>
<line x1="883.60" y1="440.40" x2="896.00" y2="440.40" stroke="#262626" stroke-width="1.0" stroke-linecap="butt"/>
<text transform="translate(895.61,435.41) scale(0.8550,1)" font-size="18.57" fill="#1f1f1f" stroke="#1f1f1f" stroke-width="0.3">15</text>
<polyline points="896.60,351.20 867.40,478.00 939.00,478.00" fill="none" stroke="#262626" stroke-width="1.0" stroke-linejoin="miter"/>
<path d="M897.18,358.93 L896.60,351.20 L892.69,357.89" fill="none" stroke="#222222" stroke-width="0.9" stroke-linejoin="miter"/>
<text transform="translate(875.08,473.81) scale(0.8648,1)" font-size="19.14" fill="#1f1f1f" stroke="#1f1f1f" stroke-width="0.3">M15×1</text>
<rect x="828.40" y="516.60" width="83.40" height="21.00" fill="none" stroke="#262626" stroke-width="1.0"/>
<line x1="846.00" y1="516.60" x2="846.00" y2="537.60" stroke="#262626" stroke-width="1.0" stroke-linecap="butt"/>
<line x1="894.60" y1="516.60" x2="894.60" y2="537.60" stroke="#262626" stroke-width="1.0" stroke-linecap="butt"/>
<text transform="translate(829.99,533.40) scale(1.1154,1)" font-size="14.86" fill="#1f1f1f" stroke="#1f1f1f" stroke-width="0.3"><tspan font-family="DejaVu Sans, sans-serif">⊥</tspan></text>
<text transform="translate(849.56,533.83) scale(0.9190,1)" font-size="17.46" fill="#1f1f1f" stroke="#1f1f1f" stroke-width="0.3">0.004</text>
<text transform="translate(897.33,533.80) scale(0.8769,1)" font-size="17.68" fill="#1f1f1f" stroke="#1f1f1f" stroke-width="0.3"><tspan font-style="italic">E</tspan></text>
<line x1="814.60" y1="527.20" x2="828.40" y2="527.20" stroke="#262626" stroke-width="1.0" stroke-linecap="butt"/>
<path d="M822.00,524.90 L814.60,527.20 L822.00,529.50" fill="none" stroke="#222222" stroke-width="0.9" stroke-linejoin="miter"/>
<polygon points="1193.60,215.20 1302.40,215.20 1324.40,229.20 1324.40,419.40 1302.40,433.40 1193.60,433.40 1171.60,419.40 1171.60,229.20" fill="none" stroke="#1c1c1c" stroke-width="1.5" stroke-linejoin="miter"/>
<line x1="1198.20" y1="215.80" x2="1171.00" y2="233.20" stroke="#1c1c1c" stroke-width="1.5" stroke-linecap="butt"/>
<line x1="1297.20" y1="215.80" x2="1324.40" y2="233.20" stroke="#1c1c1c" stroke-width="1.5" stroke-linecap="butt"/>
<line x1="1198.20" y1="433.40" x2="1171.00" y2="416.00" stroke="#1c1c1c" stroke-width="1.5" stroke-linecap="butt"/>
<line x1="1297.20" y1="433.40" x2="1324.40" y2="416.00" stroke="#1c1c1c" stroke-width="1.5" stroke-linecap="butt"/>
<path d="M1345.73,330.42 A98.2,98.2 0 0 1 1301.61,406.68" fill="none" stroke="#262626" stroke-width="1.0" stroke-linecap="butt"/>
<path d="M1345.87,322.03 A98.2,98.2 0 0 1 1345.87,327.17" fill="none" stroke="#262626" stroke-width="1.0" stroke-linecap="butt"/>
<path d="M1291.52,412.48 A98.2,98.2 0 0 1 1253.52,422.63" fill="none" stroke="#262626" stroke-width="1.0" stroke-linecap="butt"/>
<path d="M1298.86,408.42 A98.2,98.2 0 0 1 1294.41,410.98" fill="none" stroke="#262626" stroke-width="1.0" stroke-linecap="butt"/>
<path d="M1241.88,422.63 A98.2,98.2 0 0 1 1203.88,412.48" fill="none" stroke="#262626" stroke-width="1.0" stroke-linecap="butt"/>
<path d="M1250.27,422.77 A98.2,98.2 0 0 1 1245.13,422.77" fill="none" stroke="#262626" stroke-width="1.0" stroke-linecap="butt"/>
<path d="M1193.79,406.68 A98.2,98.2 0 0 1 1149.67,330.42" fill="none" stroke="#262626" stroke-width="1.0" stroke-linecap="butt"/>
<path d="M1200.99,410.98 A98.2,98.2 0 0 1 1196.54,408.42" fill="none" stroke="#262626" stroke-width="1.0" stroke-linecap="butt"/>
<path d="M1149.67,318.78 A98.2,98.2 0 0 1 1193.79,242.52" fill="none" stroke="#262626" stroke-width="1.0" stroke-linecap="butt"/>
<path d="M1149.53,327.17 A98.2,98.2 0 0 1 1149.53,322.03" fill="none" stroke="#262626" stroke-width="1.0" stroke-linecap="butt"/>
<path d="M1203.88,236.72 A98.2,98.2 0 0 1 1241.88,226.57" fill="none" stroke="#262626" stroke-width="1.0" stroke-linecap="butt"/>
<path d="M1196.54,240.78 A98.2,98.2 0 0 1 1200.99,238.22" fill="none" stroke="#262626" stroke-width="1.0" stroke-linecap="butt"/>
<path d="M1253.52,226.57 A98.2,98.2 0 0 1 1291.52,236.72" fill="none" stroke="#262626" stroke-width="1.0" stroke-linecap="butt"/>
<path d="M1245.13,226.43 A98.2,98.2 0 0 1 1250.27,226.43" fill="none" stroke="#262626" stroke-width="1.0" stroke-linecap="butt"/>
<path d="M1301.61,242.52 A98.2,98.2 0 0 1 1345.73,318.78" fill="none" stroke="#262626" stroke-width="1.0" stroke-linecap="butt"/>
<path d="M1294.41,238.22 A98.2,98.2 0 0 1 1298.86,240.78" fill="none" stroke="#262626" stroke-width="1.0" stroke-linecap="butt"/>
<circle cx="1247.70" cy="324.60" r="74.60" fill="none" stroke="#262626" stroke-width="1.0" stroke-dasharray="7 3.4"/>
<circle cx="1247.70" cy="324.60" r="48.60" fill="none" stroke="#1c1c1c" stroke-width="1.5"/>
<circle cx="1247.70" cy="324.60" r="33.00" fill="none" stroke="#1c1c1c" stroke-width="1.5"/>
<circle cx="1247.70" cy="324.60" r="28.30" fill="none" stroke="#262626" stroke-width="1.0"/>
<line x1="1128.40" y1="324.60" x2="1358.00" y2="324.60" stroke="#262626" stroke-width="1.0" stroke-dasharray="38 3 5 3" stroke-linecap="butt"/>
<line x1="1247.70" y1="170.00" x2="1247.70" y2="446.50" stroke="#262626" stroke-width="1.0" stroke-dasharray="44 3 5 3" stroke-linecap="butt"/>
<circle cx="1198.70" cy="239.80" r="18.50" fill="none" stroke="#1c1c1c" stroke-width="1.5"/>
<circle cx="1198.70" cy="239.80" r="11.00" fill="none" stroke="#1c1c1c" stroke-width="1.5"/>
<line x1="1213.93" y1="266.16" x2="1201.30" y2="244.30" stroke="#262626" stroke-width="1.0" stroke-linecap="butt"/>
<line x1="1199.90" y1="241.88" x2="1197.50" y2="237.72" stroke="#262626" stroke-width="1.0" stroke-linecap="butt"/>
<line x1="1196.10" y1="235.30" x2="1169.90" y2="189.96" stroke="#262626" stroke-width="1.0" stroke-linecap="butt"/>
<circle cx="1198.70" cy="409.40" r="18.50" fill="none" stroke="#1c1c1c" stroke-width="1.5"/>
<circle cx="1198.70" cy="409.40" r="11.00" fill="none" stroke="#1c1c1c" stroke-width="1.5"/>
<line x1="1213.93" y1="383.04" x2="1201.30" y2="404.90" stroke="#262626" stroke-width="1.0" stroke-linecap="butt"/>
<line x1="1199.90" y1="407.32" x2="1197.50" y2="411.48" stroke="#262626" stroke-width="1.0" stroke-linecap="butt"/>
<line x1="1196.10" y1="413.90" x2="1185.66" y2="431.96" stroke="#262626" stroke-width="1.0" stroke-linecap="butt"/>
<circle cx="1296.70" cy="239.80" r="18.50" fill="none" stroke="#1c1c1c" stroke-width="1.5"/>
<circle cx="1296.70" cy="239.80" r="11.00" fill="none" stroke="#1c1c1c" stroke-width="1.5"/>
<line x1="1281.47" y1="266.16" x2="1294.10" y2="244.30" stroke="#262626" stroke-width="1.0" stroke-linecap="butt"/>
<line x1="1295.50" y1="241.88" x2="1297.90" y2="237.72" stroke="#262626" stroke-width="1.0" stroke-linecap="butt"/>
<line x1="1299.30" y1="235.30" x2="1325.50" y2="189.96" stroke="#262626" stroke-width="1.0" stroke-linecap="butt"/>
<circle cx="1296.70" cy="409.40" r="18.50" fill="none" stroke="#1c1c1c" stroke-width="1.5"/>
<circle cx="1296.70" cy="409.40" r="11.00" fill="none" stroke="#1c1c1c" stroke-width="1.5"/>
<line x1="1281.47" y1="383.04" x2="1294.10" y2="404.90" stroke="#262626" stroke-width="1.0" stroke-linecap="butt"/>
<line x1="1295.50" y1="407.32" x2="1297.90" y2="411.48" stroke="#262626" stroke-width="1.0" stroke-linecap="butt"/>
<line x1="1299.30" y1="413.90" x2="1309.74" y2="431.96" stroke="#262626" stroke-width="1.0" stroke-linecap="butt"/>
<circle cx="1247.70" cy="245.40" r="9.70" fill="none" stroke="#262626" stroke-width="1.0"/>
<circle cx="1247.70" cy="245.40" r="7.40" fill="none" stroke="#1c1c1c" stroke-width="1.5"/>
<line x1="1238.00" y1="215.20" x2="1238.00" y2="236.50" stroke="#262626" stroke-width="1.0" stroke-dasharray="3.4 1.8" stroke-linecap="butt"/>
<line x1="1239.80" y1="215.20" x2="1239.80" y2="236.50" stroke="#262626" stroke-width="1.0" stroke-dasharray="3.4 1.8" stroke-linecap="butt"/>
<line x1="1255.40" y1="215.20" x2="1255.40" y2="236.50" stroke="#262626" stroke-width="1.0" stroke-dasharray="3.4 1.8" stroke-linecap="butt"/>
<line x1="1257.20" y1="215.20" x2="1257.20" y2="236.50" stroke="#262626" stroke-width="1.0" stroke-dasharray="3.4 1.8" stroke-linecap="butt"/>
<line x1="1242.60" y1="255.50" x2="1242.60" y2="279.50" stroke="#262626" stroke-width="1.0" stroke-dasharray="3.4 1.8" stroke-linecap="butt"/>
<line x1="1252.80" y1="255.50" x2="1252.80" y2="279.50" stroke="#262626" stroke-width="1.0" stroke-dasharray="3.4 1.8" stroke-linecap="butt"/>
<line x1="1242.00" y1="248.00" x2="1253.50" y2="248.00" stroke="#262626" stroke-width="1.0" stroke-linecap="butt"/>
<line x1="1198.60" y1="267.20" x2="1198.60" y2="381.60" stroke="#262626" stroke-width="1.25" stroke-dasharray="4.6 2.4" stroke-linecap="butt"/>
<line x1="1178.40" y1="305.00" x2="1198.60" y2="305.00" stroke="#262626" stroke-width="1.25" stroke-dasharray="4.6 2.4" stroke-linecap="butt"/>
<line x1="1178.40" y1="344.60" x2="1198.60" y2="344.60" stroke="#262626" stroke-width="1.25" stroke-dasharray="4.6 2.4" stroke-linecap="butt"/>
<line x1="1175.00" y1="305.00" x2="1175.00" y2="344.60" stroke="#262626" stroke-width="1.25" stroke-dasharray="4.6 2.4" stroke-linecap="butt"/>
<path d="M1198.6,286.4 Q1184,291.5 1178.4,305" fill="none" stroke="#262626" stroke-width="1.25" stroke-dasharray="4.6 2.4" stroke-linecap="butt"/>
<path d="M1198.6,362.8 Q1184,357.7 1178.4,344.6" fill="none" stroke="#262626" stroke-width="1.25" stroke-dasharray="4.6 2.4" stroke-linecap="butt"/>
<line x1="1091.00" y1="215.20" x2="1193.60" y2="215.20" stroke="#262626" stroke-width="1.0" stroke-linecap="butt"/>
<line x1="1091.00" y1="433.40" x2="1193.60" y2="433.40" stroke="#262626" stroke-width="1.0" stroke-linecap="butt"/>
<line x1="1097.80" y1="215.20" x2="1097.80" y2="433.40" stroke="#262626" stroke-width="1.0" stroke-linecap="butt"/>
<path d="M1100.10,222.60 L1097.80,215.20 L1095.50,222.60" fill="none" stroke="#222222" stroke-width="0.9" stroke-linejoin="miter"/>
<path d="M1095.50,426.00 L1097.80,433.40 L1100.10,426.00" fill="none" stroke="#222222" stroke-width="0.9" stroke-linejoin="miter"/>
<text transform="translate(1092.42,336.26) rotate(-90) scale(1.1566,1)" font-size="18.31" fill="#1f1f1f" stroke="#1f1f1f" stroke-width="0.25">66</text>
<line x1="1128.40" y1="245.40" x2="1264.00" y2="245.40" stroke="#262626" stroke-width="1.0" stroke-linecap="butt"/>
<line x1="1134.40" y1="245.40" x2="1134.40" y2="324.60" stroke="#262626" stroke-width="1.0" stroke-linecap="butt"/>
<path d="M1136.70,252.80 L1134.40,245.40 L1132.10,252.80" fill="none" stroke="#222222" stroke-width="0.9" stroke-linejoin="miter"/>
<path d="M1132.10,317.20 L1134.40,324.60 L1136.70,317.20" fill="none" stroke="#222222" stroke-width="0.9" stroke-linejoin="miter"/>
<text transform="translate(1129.40,296.25) rotate(-90) scale(1.1292,1)" font-size="18.57" fill="#1f1f1f" stroke="#1f1f1f" stroke-width="0.25">24</text>
<line x1="1171.60" y1="419.40" x2="1171.60" y2="501.40" stroke="#262626" stroke-width="1.0" stroke-linecap="butt"/>
<line x1="1324.40" y1="419.40" x2="1324.40" y2="501.40" stroke="#262626" stroke-width="1.0" stroke-linecap="butt"/>
<line x1="1171.60" y1="495.20" x2="1324.40" y2="495.20" stroke="#262626" stroke-width="1.0" stroke-linecap="butt"/>
<path d="M1179.00,492.90 L1171.60,495.20 L1179.00,497.50" fill="none" stroke="#222222" stroke-width="0.9" stroke-linejoin="miter"/>
<path d="M1317.00,497.50 L1324.40,495.20 L1317.00,492.90" fill="none" stroke="#222222" stroke-width="0.9" stroke-linejoin="miter"/>
<text transform="translate(1236.80,489.41) scale(1.0758,1)" font-size="18.59" fill="#1f1f1f" stroke="#1f1f1f" stroke-width="0.3">46</text>
<line x1="1155.36" y1="358.03" x2="1421.18" y2="261.80" stroke="#262626" stroke-width="1.0" stroke-linecap="butt"/>
<path d="M1161.54,353.34 L1155.36,358.03 L1163.10,357.67" fill="none" stroke="#222222" stroke-width="0.9" stroke-linejoin="miter"/>
<path d="M1333.86,295.86 L1340.04,291.17 L1332.30,291.53" fill="none" stroke="#222222" stroke-width="0.9" stroke-linejoin="miter"/>
<text transform="translate(1382.00,265.00) rotate(-19.9) translate(-35.61,7.00) scale(0.9930,1)" font-size="20.29" fill="#1f1f1f" stroke="#1f1f1f" stroke-width="0.25">PCD 59</text>
<path d="M1173.55,195.13 A149.2,149.2 0 0 1 1321.85,195.13" fill="none" stroke="#262626" stroke-width="1.0" stroke-linecap="butt"/>
<path d="M1178.96,189.58 L1173.55,195.13 L1181.15,193.62" fill="none" stroke="#222222" stroke-width="0.9" stroke-linejoin="miter"/>
<path d="M1314.25,193.62 L1321.85,195.13 L1316.44,189.58" fill="none" stroke="#222222" stroke-width="0.9" stroke-linejoin="miter"/>
<path d="M1240.34,177.83 L1247.70,175.40 L1240.26,173.23" fill="none" stroke="#222222" stroke-width="0.9" stroke-linejoin="miter"/>
<path d="M1255.14,173.23 L1247.70,175.40 L1255.06,177.83" fill="none" stroke="#222222" stroke-width="0.9" stroke-linejoin="miter"/>
<text transform="translate(1208.00,168.80) rotate(-15.5) translate(-16.12,6.80) scale(1.0970,1)" font-size="19.72" fill="#1f1f1f" stroke="#1f1f1f" stroke-width="0.25">30°</text>
<text transform="translate(1287.60,169.60) rotate(14.5) translate(-16.03,6.80) scale(1.0768,1)" font-size="19.72" fill="#1f1f1f" stroke="#1f1f1f" stroke-width="0.25"><tspan font-style="italic">30°</tspan></text>
<line x1="1075.00" y1="139.00" x2="1219.60" y2="139.00" stroke="#262626" stroke-width="1.0" stroke-linecap="butt"/>
<line x1="1219.60" y1="139.00" x2="1247.20" y2="214.60" stroke="#262626" stroke-width="1.0" stroke-linecap="butt"/>
<path d="M1242.51,208.43 L1247.20,214.60 L1246.83,206.86" fill="none" stroke="#222222" stroke-width="0.9" stroke-linejoin="miter"/>
<line x1="1221.40" y1="145.00" x2="1243.40" y2="236.60" stroke="#262626" stroke-width="1.0" stroke-linecap="butt"/>
<text transform="translate(1098.62,133.20) scale(0.9861,1)" font-size="20.00" fill="#1f1f1f" stroke="#1f1f1f" stroke-width="0.25">M6×1 <tspan dx="2.80">螺孔</tspan></text>
<text transform="translate(1092.65,161.23) scale(0.9765,1)" font-size="19.68" fill="#1f1f1f" stroke="#1f1f1f" stroke-width="0.25">（<tspan dx="7.48">注油孔</tspan><tspan dx="6.49">）</tspan></text>
<line x1="1323.80" y1="138.80" x2="1485.00" y2="138.80" stroke="#262626" stroke-width="1.0" stroke-linecap="butt"/>
<line x1="1323.80" y1="138.80" x2="1300.20" y2="229.60" stroke="#262626" stroke-width="1.0" stroke-linecap="butt"/>
<path d="M1299.84,221.86 L1300.20,229.60 L1304.29,223.02" fill="none" stroke="#222222" stroke-width="0.9" stroke-linejoin="miter"/>
<text transform="translate(1360.79,133.80) scale(1.0176,1)" font-size="20.00" fill="#1f1f1f" stroke="#1f1f1f" stroke-width="0.25">4-<tspan font-style="italic">ϕ</tspan>6.6通孔</text>
<text transform="translate(1337.39,159.21) scale(1.0899,1)" font-size="18.71" fill="#1f1f1f" stroke="#1f1f1f" stroke-width="0.25"><tspan font-style="italic">ϕ</tspan>11沉孔深度6.5</text>
<line x1="1182.00" y1="575.40" x2="1313.40" y2="575.40" stroke="#262626" stroke-width="1.0" stroke-linecap="butt"/>
<text transform="translate(1210.42,570.76) scale(1.0114,1)" font-size="19.24" fill="#1f1f1f" stroke="#1f1f1f" stroke-width="0.25">视图<tspan font-style="italic" font-size="21.17" dx="1.15">X-X</tspan></text>
</svg>
</body>
</html>
